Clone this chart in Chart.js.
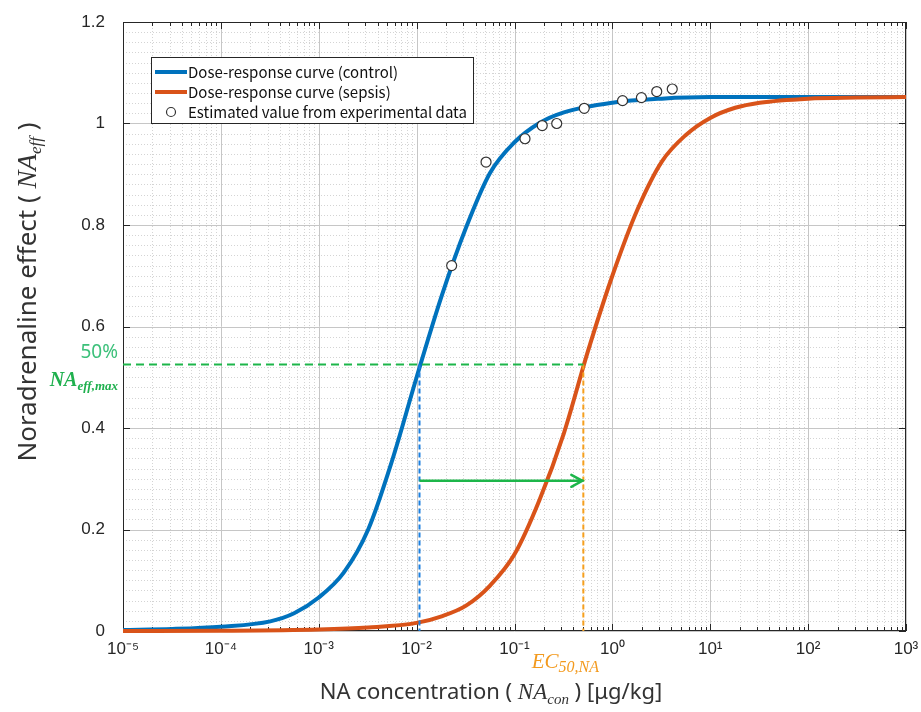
<!DOCTYPE html>
<html>
<head>
<meta charset="utf-8">
<script src="https://cdn.jsdelivr.net/npm/chart.js@4"></script>
<style>
html,body{margin:0;padding:0;background:#fff}
#wrap{width:921px;height:712px;position:relative}
</style>
</head>
<body>
<div id="wrap"><canvas id="doseChart" width="921" height="712"></canvas></div>
<script>
// values: x = NA concentration [ug/kg], y = NA effect
const controlConc = [1e-5, 3.2e-5, 1e-4, 3.2e-4, 5.6e-4, 1e-3, 1.8e-3, 3.2e-3, 5.6e-3, 1e-2, 1.8e-2, 3.2e-2, 5.6e-2, 0.1, 0.18, 0.32, 1, 3.2, 10, 1000];
const controlEff  = [0.002, 0.004, 0.0085, 0.019, 0.035, 0.066, 0.115, 0.20, 0.335, 0.50, 0.66, 0.795, 0.902, 0.963, 1.001, 1.022, 1.041, 1.049, 1.052, 1.052];
const sepsisConc  = [1e-5, 1e-4, 1e-3, 3.2e-3, 1e-2, 1.8e-2, 3.2e-2, 5.6e-2, 0.1, 0.18, 0.32, 0.56, 1, 1.8, 3.2, 5.6, 10, 18, 32, 100, 320, 1000];
const sepsisEff   = [0, 0.0005, 0.003, 0.007, 0.016, 0.029, 0.05, 0.089, 0.151, 0.258, 0.39, 0.55, 0.70, 0.83, 0.925, 0.977, 1.011, 1.031, 1.041, 1.049, 1.051, 1.052];
const expConc = [0.0228, 0.0512, 0.128, 0.192, 0.270, 0.516, 1.27, 1.98, 2.84, 4.09];
const expEff  = [0.720, 0.924, 0.970, 0.996, 1.000, 1.030, 1.045, 1.051, 1.063, 1.068];

const xDecades = [1e-5, 1e-4, 1e-3, 1e-2, 1e-1, 1, 10, 100, 1000];
const xTickLabels = ['10\u207B\u2075', '10\u207B\u2074', '10\u207B\u00B3', '10\u207B\u00B2', '10\u207B\u00B9', '10\u2070', '10\u00B9', '10\u00B2', '10\u00B3'];
const yTicks = [0, 0.2, 0.4, 0.6, 0.8, 1, 1.2];
const yTickLabels = ['0', '0.2', '0.4', '0.6', '0.8', '1', '1.2'];

const halfEffect = 0.525;   // 50% of NA_eff,max
const ec50Control = 0.0107;
const ec50Sepsis = 0.505;
const shiftArrowY = 0.296;

const legendLabels = ['Dose-response curve (control)', 'Dose-response curve (sepsis)', 'Estimated value from experimental data'];

const blue = '#0072bd', orange = '#d95319';
const greenLine = '#1db64a', blueDash = '#1a7fe0', orangeDash = '#f6a01e';

const pts = (xs, ys) => xs.map((v, i) => ({x: v, y: ys[i]}));

// minor log ticks between decades
const xAllTicks = [];
xDecades.forEach((d, i) => {
  xAllTicks.push({value: d, major: true, label: xTickLabels[i]});
  if (i < xDecades.length - 1) for (let m = 2; m <= 9; m++) xAllTicks.push({value: Number((m * d).toPrecision(3)), major: false, label: ''});
});

function richText(ctx, parts, x, y, align) {
  let w = 0;
  parts.forEach(p => { ctx.font = p.font; w += ctx.measureText(p.t).width; });
  let cx = align === 'center' ? x - w / 2 : align === 'right' ? x - w : x;
  parts.forEach(p => {
    ctx.font = p.font; ctx.fillStyle = p.color;
    ctx.fillText(p.t, cx, y + (p.dy || 0));
    cx += ctx.measureText(p.t).width;
  });
}

const figureDecor = {
  id: 'figureDecor',
  beforeDatasetsDraw(chart) {
    const {ctx, chartArea: a, scales: {x, y}} = chart;
    ctx.save();
    ctx.lineWidth = 1;
    // minor grid
    ctx.strokeStyle = '#d4d4d4';
    ctx.setLineDash([1, 2]);
    ctx.beginPath();
    xAllTicks.forEach(t => {
      if (t.major) return;
      const px = Math.round(x.getPixelForValue(t.value)) + 0.5;
      ctx.moveTo(px, a.top); ctx.lineTo(px, a.bottom);
    });
    for (let i = 1; i < 60; i++) {
      if (i % 10 === 0) continue;
      const py = Math.round(y.getPixelForValue(i * 0.02)) + 0.5;
      ctx.moveTo(a.left, py); ctx.lineTo(a.right, py);
    }
    ctx.stroke();
    // major grid
    ctx.setLineDash([]);
    ctx.strokeStyle = '#c6c6c6';
    ctx.beginPath();
    xDecades.forEach(d => {
      const px = Math.round(x.getPixelForValue(d)) + 0.5;
      ctx.moveTo(px, a.top); ctx.lineTo(px, a.bottom);
    });
    yTicks.forEach(v => {
      const py = Math.round(y.getPixelForValue(v)) + 0.5;
      ctx.moveTo(a.left, py); ctx.lineTo(a.right, py);
    });
    ctx.stroke();
    // box + inward ticks
    ctx.strokeStyle = '#262626';
    ctx.strokeRect(Math.round(a.left) + 0.5, Math.round(a.top) + 0.5, Math.round(a.width) - 1, Math.round(a.height) - 1);
    ctx.beginPath();
    xAllTicks.forEach(t => {
      const px = Math.round(x.getPixelForValue(t.value)) + 0.5, len = t.major ? 7 : 4;
      ctx.moveTo(px, a.bottom); ctx.lineTo(px, a.bottom - len);
      ctx.moveTo(px, a.top); ctx.lineTo(px, a.top + len);
    });
    yTicks.forEach(v => {
      const py = Math.round(y.getPixelForValue(v)) + 0.5;
      ctx.moveTo(a.left, py); ctx.lineTo(a.left + 7, py);
      ctx.moveTo(a.right, py); ctx.lineTo(a.right - 7, py);
    });
    ctx.stroke();
    ctx.restore();
  },
  afterDatasetsDraw(chart) {
    const {ctx, scales: {x, y}} = chart;
    // arrow head of the EC50 shift
    const hx = x.getPixelForValue(ec50Sepsis), hy = y.getPixelForValue(shiftArrowY);
    ctx.save();
    ctx.strokeStyle = greenLine; ctx.lineWidth = 2.5; ctx.lineCap = 'round';
    ctx.beginPath();
    ctx.moveTo(hx - 12, hy - 6); ctx.lineTo(hx - 1, hy); ctx.lineTo(hx - 12, hy + 6);
    ctx.stroke();
    ctx.restore();
  },
  afterDraw(chart) {
    const {ctx, chartArea: a, scales: {x, y}} = chart;
    ctx.save();
    // legend
    const lx = a.left + 28, ly = a.top + 35, lw = 322, lh = 66;
    ctx.fillStyle = '#fff'; ctx.fillRect(lx, ly, lw, lh);
    ctx.strokeStyle = '#262626'; ctx.lineWidth = 1;
    ctx.strokeRect(lx + 0.5, ly + 0.5, lw, lh);
    ctx.textBaseline = 'middle';
    ctx.font = '15px "Noto Sans CJK JP"';
    ctx.fillStyle = '#111';
    [blue, orange].forEach((c, i) => {
      const ry = ly + 15 + i * 20;
      ctx.strokeStyle = c; ctx.lineWidth = 4;
      ctx.beginPath(); ctx.moveTo(lx + 4, ry); ctx.lineTo(lx + 36, ry); ctx.stroke();
      ctx.fillText(legendLabels[i], lx + 37, ry);
    });
    ctx.beginPath(); ctx.arc(lx + 20, ly + 55, 4.5, 0, Math.PI * 2);
    ctx.fillStyle = '#fff'; ctx.fill();
    ctx.strokeStyle = '#333'; ctx.lineWidth = 1.2; ctx.stroke();
    ctx.fillStyle = '#111';
    ctx.fillText(legendLabels[2], lx + 37, ly + 55);

    // axis titles
    ctx.textBaseline = 'alphabetic';
    const sans = '22px "Noto Sans"', serI = 'italic 23px "Liberation Serif"', serSub = 'italic 15px "Liberation Serif"';
    richText(ctx, [
      {t: 'NA concentration ( ', font: sans, color: '#333'},
      {t: 'NA', font: serI, color: '#333'},
      {t: 'con', font: serSub, color: '#333', dy: 5},
      {t: ' ) [\u03BCg/kg]', font: sans, color: '#333'}
    ], 491, 699, 'center');
    const ysans = '26px "Noto Sans"', yserI = 'italic 27px "Liberation Serif"', yserSub = 'italic 17px "Liberation Serif"';
    ctx.save();
    ctx.translate(36, 292);
    ctx.rotate(-Math.PI / 2);
    richText(ctx, [
      {t: 'Noradrenaline effect ( ', font: ysans, color: '#333'},
      {t: 'NA', font: yserI, color: '#333'},
      {t: 'eff', font: yserSub, color: '#333', dy: 5},
      {t: ' )', font: ysans, color: '#333'}
    ], 0, 0, 'center');
    ctx.restore();

    // 50% NA_eff,max label
    const gy = y.getPixelForValue(halfEffect);
    ctx.font = '19px "Noto Sans"'; ctx.fillStyle = '#3cc07a'; ctx.textAlign = 'right';
    ctx.fillText('50%', 118, gy - 7);
    ctx.textAlign = 'left';
    richText(ctx, [
      {t: 'NA', font: 'bold italic 20px "Liberation Serif"', color: '#1fb04e'},
      {t: 'eff,max', font: 'bold italic 13px "Liberation Serif"', color: '#1fb04e', dy: 4}
    ], 118, gy + 21, 'right');

    // EC50,NA label
    const ex = x.getPixelForValue(ec50Sepsis);
    richText(ctx, [
      {t: 'EC', font: 'italic 21px "Liberation Serif"', color: '#f39a1e'},
      {t: '50,NA', font: 'italic 16px "Liberation Serif"', color: '#f39a1e', dy: 4}
    ], ex - 18, a.bottom + 37, 'center');
    ctx.restore();
  }
};

new Chart(document.getElementById('doseChart'), {
  type: 'line',
  data: {
    datasets: [
      {label: legendLabels[2], type: 'scatter', data: pts(expConc, expEff), pointRadius: 5, pointBackgroundColor: '#fff', pointBorderColor: '#333', pointBorderWidth: 1.2, showLine: false},
      {label: 'shift', data: [{x: ec50Control, y: shiftArrowY}, {x: ec50Sepsis, y: shiftArrowY}], borderColor: greenLine, borderWidth: 2.5, pointRadius: 0},
      {label: 'half', data: [{x: 1e-5, y: halfEffect}, {x: ec50Sepsis, y: halfEffect}], borderColor: greenLine, borderWidth: 2, borderDash: [8, 5], pointRadius: 0},
      {label: 'ec50c', data: [{x: ec50Control, y: halfEffect}, {x: ec50Control, y: 0}], borderColor: blueDash, borderWidth: 2, borderDash: [5, 3], pointRadius: 0},
      {label: 'ec50s', data: [{x: ec50Sepsis, y: halfEffect}, {x: ec50Sepsis, y: 0}], borderColor: orangeDash, borderWidth: 2, borderDash: [5, 3], pointRadius: 0},
      {label: legendLabels[1], data: pts(sepsisConc, sepsisEff), borderColor: orange, borderWidth: 4, pointRadius: 0, cubicInterpolationMode: 'monotone', clip: false},
      {label: legendLabels[0], data: pts(controlConc, controlEff), borderColor: blue, borderWidth: 4, pointRadius: 0, cubicInterpolationMode: 'monotone', clip: false}
    ]
  },
  options: {
    responsive: false,
    animation: false,
    devicePixelRatio: 1,
    layout: {padding: {left: 0, right: 15, top: 22, bottom: 0}},
    plugins: {legend: {display: false}, tooltip: {enabled: false}},
    scales: {
      x: {
        type: 'logarithmic', min: 1e-5, max: 1e3,
        grid: {display: false, drawTicks: true, tickLength: 8}, border: {display: false},
        afterBuildTicks: s => { s.ticks = xAllTicks.map(t => ({value: t.value, major: t.major})); },
        afterFit: s => { s.height = 81; },
        ticks: {
          autoSkip: false, maxRotation: 0, padding: 0, color: '#262626',
          font: {family: '"Liberation Sans"', size: 17},
          callback: (v, i) => xAllTicks[i] ? xAllTicks[i].label : ''
        }
      },
      y: {
        min: 0, max: 1.2,
        grid: {display: false}, border: {display: false},
        afterBuildTicks: s => { s.ticks = yTicks.map(v => ({value: v})); },
        afterFit: s => { s.width = 123; },
        ticks: {
          padding: 10, color: '#262626',
          font: {family: '"Liberation Sans"', size: 17},
          callback: (v, i) => yTickLabels[i]
        }
      }
    }
  },
  plugins: [figureDecor]
});
</script>
</body>
</html>
